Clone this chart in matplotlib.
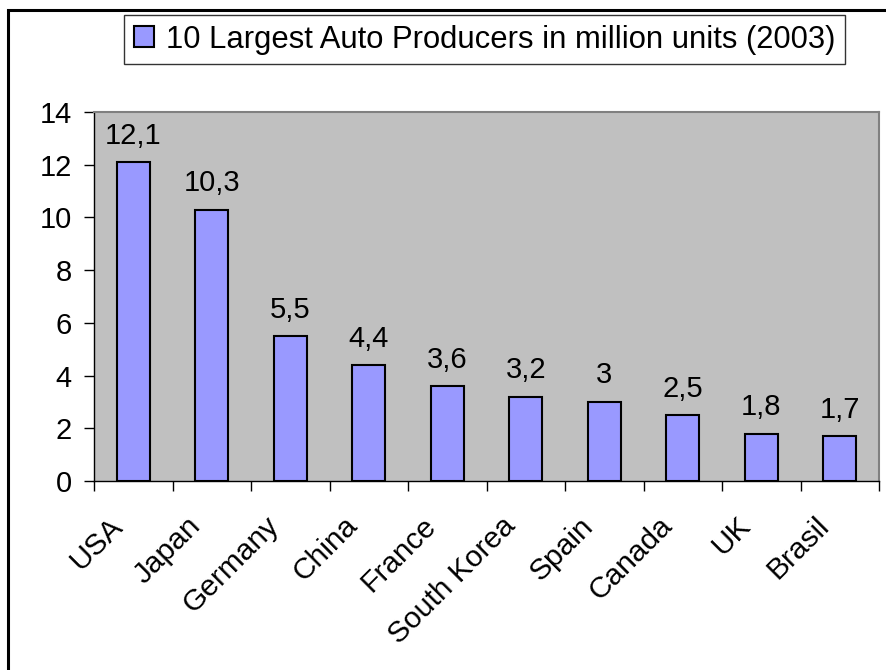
import numpy as np
from matplotlib import pyplot as plt
from matplotlib.patches import Rectangle
from matplotlib.transforms import ScaledTranslation

countries = ['USA', 'Japan', 'Germany', 'China', 'France', 'South Korea',
             'Spain', 'Canada', 'UK', 'Brasil']
units = [12.1, 10.3, 5.5, 4.4, 3.6, 3.2, 3.0, 2.5, 1.8, 1.7]
series_name = '10 Largest Auto Producers in million units (2003)'
y_ticks = [0, 2, 4, 6, 8, 10, 12, 14]

plt.rcParams['font.family'] = ['Liberation Sans', 'DejaVu Sans']

fig = plt.figure(figsize=(8.86, 6.70), dpi=100)
ax = fig.add_axes([94 / 886, 1 - 481 / 670, 785 / 886, 369 / 670])
ax.set_facecolor('#C0C0C0')

x = np.arange(len(countries))
bars = ax.bar(x, units, width=0.42, color='#9999FF', edgecolor='black',
              linewidth=1.5, label=series_name, zorder=3)

# value labels, comma as decimal separator
for xi, v in zip(x, units):
    txt = f'{v:g}'.replace('.', ',')
    ax.annotate(txt, (xi, v), xytext=(0, 9), textcoords='offset points',
                ha='center', va='bottom', fontsize=21)

ax.set_xlim(-0.5, len(countries) - 0.5)
ax.set_ylim(0, 14)
ax.set_yticks(y_ticks)
ax.set_xticks(x)
ax.set_xticklabels(countries, rotation=45, ha='right', rotation_mode='anchor',
                   fontsize=21.5)
ax.set_xticks(np.arange(len(countries) + 1) - 0.5, minor=True)
ax.tick_params(axis='x', which='major', length=0, pad=22)
ax.tick_params(axis='x', which='minor', length=7, width=1, color='black',
               direction='out')
ax.tick_params(axis='y', length=7, width=1, labelsize=21, pad=9,
               direction='out')

# shift category labels a bit to the left (after tick_params, which resets transforms)
shift = ScaledTranslation(-25 / 100, 0, fig.dpi_scale_trans)
for lbl in ax.xaxis.get_majorticklabels():
    lbl.set_transform(lbl.get_transform() + shift)

for side in ['top', 'right']:
    ax.spines[side].set_color('#808080')
    ax.spines[side].set_linewidth(1.5)
for side in ['left', 'bottom']:
    ax.spines[side].set_color('black')
    ax.spines[side].set_linewidth(1)

leg = fig.legend(handles=[bars], labels=[series_name], loc='center',
                 bbox_to_anchor=(0.547, 0.941), fontsize=22.3, frameon=True,
                 fancybox=False, edgecolor='black', handlelength=0.65,
                 handleheight=0.65, handletextpad=0.4, borderpad=0.3)
leg.get_frame().set_linewidth(1)

# outer chart border
fig.patches.append(Rectangle((8 / 886, -0.1), 2, 1 - 10 / 670 + 0.1,
                             transform=fig.transFigure, fill=False,
                             edgecolor='black', linewidth=2.2))

fig.savefig('out.png', dpi=100)
